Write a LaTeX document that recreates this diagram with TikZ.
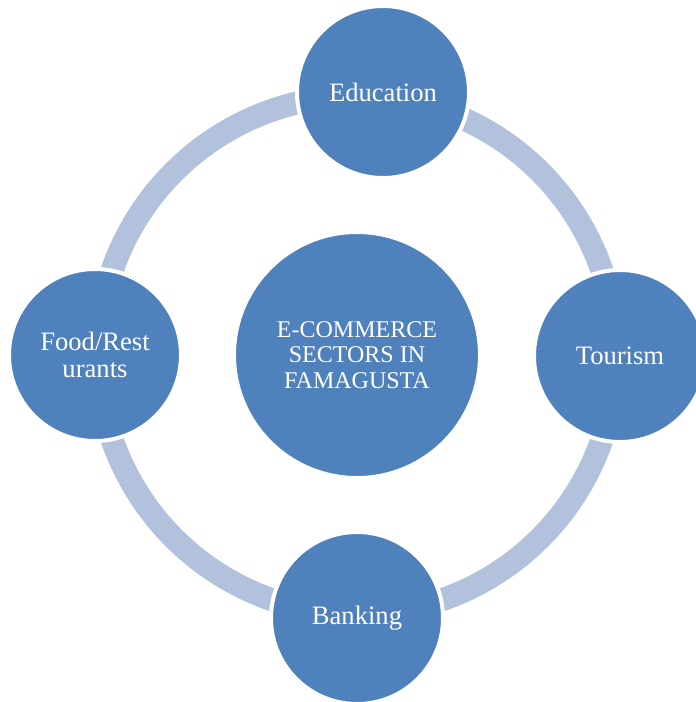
\documentclass[tikz,border=0pt]{standalone}
\usepackage{fontspec}
\setmainfont{Liberation Serif}
\definecolor{nodeblue}{RGB}{79,129,189}
\definecolor{ringblue}{RGB}{178,194,221}
\begin{document}
\begin{tikzpicture}[x=1pt,y=-1pt,
  sector/.style={circle, fill=nodeblue, draw=white, line width=4pt,
    minimum size=172pt, inner sep=0pt, text=white, align=center,
    font=\fontsize{26.6}{27}\selectfont},
  hub/.style={circle, fill=nodeblue, draw=white, line width=1pt,
    minimum size=243pt, inner sep=0pt, text=white, align=center,
    font=\fontsize{24}{25.5}\selectfont},
  ring/.style={draw=ringblue, line width=23pt}]
\useasboundingbox (0,0) rectangle (696,702);
\coordinate (c) at (357,355);
\draw[ring] (c) circle[radius=259];
\node[hub] (hubnode) at (357,355) {E-COMMERCE\\SECTORS IN\\FAMAGUSTA};
\node[sector] (edu) at (383,92) {Education};
\node[sector] (tour) at (620,356) {Tourism};
\node[sector] (bank) at (357,618) {Banking};
\node[sector] (food) at (95,355) {Food/Rest\\urants};
\end{tikzpicture}
\end{document}
